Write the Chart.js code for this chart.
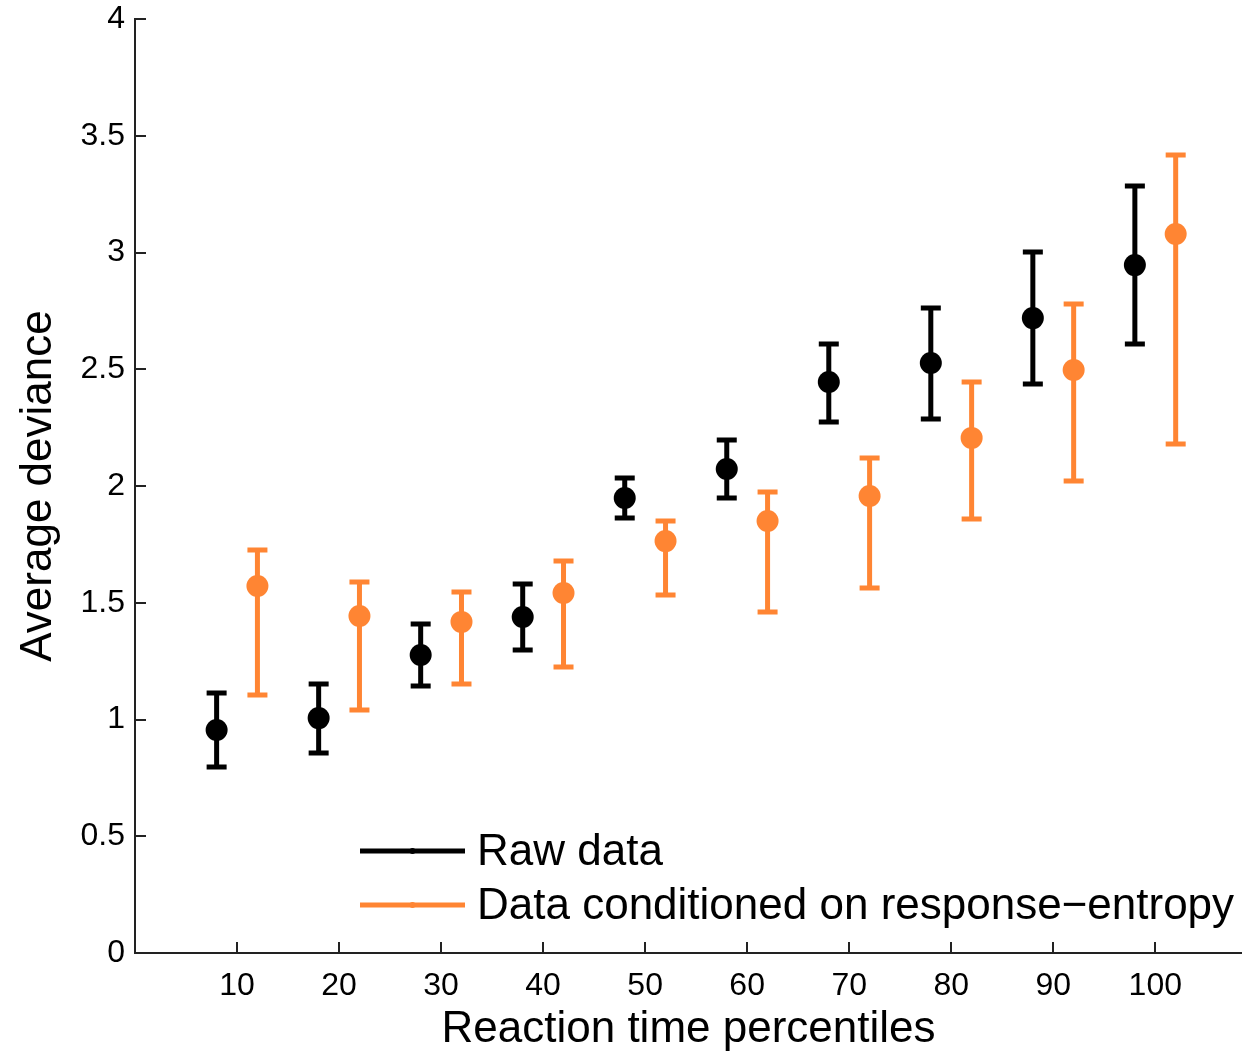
<!DOCTYPE html>
<html>
<head>
<meta charset="utf-8">
<script src="https://cdn.jsdelivr.net/npm/chart.js@4.4.1/dist/chart.umd.min.js"></script>
<style>
html,body{margin:0;padding:0;background:#fff;}
#wrap{width:1242px;height:1056px;position:relative;}
</style>
</head>
<body>
<div id="wrap"><canvas id="c" width="1242" height="1056"></canvas></div>
<script>
// ---- data ----
const xTicks = [10, 20, 30, 40, 50, 60, 70, 80, 90, 100];
const yTicks = [0, 0.5, 1, 1.5, 2, 2.5, 3, 3.5, 4];

const rawX    = [8, 18, 28, 38, 48, 58, 68, 78, 88, 98];
const rawMean = [0.955, 1.006, 1.276, 1.439, 1.949, 2.073, 2.445, 2.527, 2.719, 2.946];
const rawLow  = [0.797, 0.857, 1.143, 1.298, 1.863, 1.949, 2.274, 2.287, 2.437, 2.608];
const rawHigh = [1.113, 1.152, 1.409, 1.580, 2.034, 2.197, 2.608, 2.762, 3.002, 3.285];

const condX    = [12, 22, 32, 42, 52, 62, 72, 82, 92, 102];
const condMean = [1.572, 1.443, 1.418, 1.542, 1.764, 1.850, 1.957, 2.206, 2.497, 3.079];
const condLow  = [1.105, 1.041, 1.152, 1.225, 1.533, 1.460, 1.563, 1.859, 2.021, 2.180];
const condHigh = [1.726, 1.589, 1.546, 1.679, 1.850, 1.974, 2.120, 2.445, 2.779, 3.418];

const seriesNames = ['Raw data', 'Data conditioned on response\u2212entropy'];
const xTitle = 'Reaction time percentiles';
const yTitle = 'Average deviance';

const BLACK = '#000000';
const ORANGE = '#FF8533';
const FONT = '"Liberation Sans", Arial, Helvetica, sans-serif';

function pts(xs, ys, lo, hi) {
  return xs.map((x, i) => ({x: x, y: ys[i], lo: lo[i], hi: hi[i]}));
}

const errorBars = {
  id: 'errorBars',
  beforeDatasetsDraw(chart) {
    const ctx = chart.ctx;
    const xs = chart.scales.x, ys = chart.scales.y;
    chart.data.datasets.forEach((ds, di) => {
      if (!chart.isDatasetVisible(di)) return;
      ctx.save();
      ctx.strokeStyle = ds.borderColor;
      ctx.lineWidth = 5;
      ctx.lineCap = 'butt';
      ds.data.forEach(p => {
        const px = xs.getPixelForValue(p.x);
        const yl = ys.getPixelForValue(p.lo);
        const yh = ys.getPixelForValue(p.hi);
        const cap = 10;
        ctx.beginPath();
        ctx.moveTo(px, yl); ctx.lineTo(px, yh);
        ctx.moveTo(px - cap, yl); ctx.lineTo(px + cap, yl);
        ctx.moveTo(px - cap, yh); ctx.lineTo(px + cap, yh);
        ctx.stroke();
      });
      ctx.restore();
    });
  }
};

const inwardTicks = {
  id: 'inwardTicks',
  afterDraw(chart) {
    const ctx = chart.ctx;
    const xs = chart.scales.x, ys = chart.scales.y;
    const a = chart.chartArea;
    ctx.save();
    ctx.strokeStyle = '#222';
    ctx.lineWidth = 2;
    ctx.beginPath();
    xTicks.forEach(v => {
      const px = Math.round(xs.getPixelForValue(v));
      ctx.moveTo(px, a.bottom); ctx.lineTo(px, a.bottom - 11);
    });
    yTicks.forEach(v => {
      const py = Math.round(ys.getPixelForValue(v));
      ctx.moveTo(a.left, py); ctx.lineTo(a.left + 11, py);
    });
    ctx.stroke();

    // legend
    const lx0 = 360, lx1 = 465, tx = 477;
    const rows = [851, 905];
    chart.data.datasets.forEach((ds, i) => {
      const y = rows[i];
      ctx.strokeStyle = ds.borderColor;
      ctx.lineWidth = 5;
      ctx.beginPath(); ctx.moveTo(lx0, y); ctx.lineTo(lx1, y); ctx.stroke();
      ctx.fillStyle = ds.borderColor;
      ctx.beginPath(); ctx.arc((lx0 + lx1) / 2, y, 3, 0, Math.PI * 2); ctx.fill();
      ctx.fillStyle = '#000';
      ctx.font = '44px ' + FONT;
      ctx.textBaseline = 'middle';
      ctx.textAlign = 'left';
      ctx.fillText(ds.label, tx, y + 2);
    });
    ctx.restore();
  }
};

new Chart(document.getElementById('c'), {
  type: 'scatter',
  data: {
    datasets: [
      {
        label: seriesNames[0],
        data: pts(rawX, rawMean, rawLow, rawHigh),
        borderColor: BLACK, backgroundColor: BLACK,
        pointRadius: 11, pointHoverRadius: 11, pointBorderWidth: 0,
        showLine: false
      },
      {
        label: seriesNames[1],
        data: pts(condX, condMean, condLow, condHigh),
        borderColor: ORANGE, backgroundColor: ORANGE,
        pointRadius: 11, pointHoverRadius: 11, pointBorderWidth: 0,
        showLine: false
      }
    ]
  },
  options: {
    responsive: false,
    animation: false,
    devicePixelRatio: 1,
    layout: {autoPadding: false, padding: {top: 19, right: 0, left: 0, bottom: 0}},
    plugins: {legend: {display: false}, tooltip: {enabled: false}},
    scales: {
      x: {
        type: 'linear', min: 0, max: 108.5,
        afterBuildTicks(s) { s.ticks = xTicks.map(v => ({value: v})); },
        afterFit(s) { s.height = 103; s.paddingLeft = 0; s.paddingRight = 0; },
        grid: {display: false, drawTicks: false},
        border: {display: true, color: '#222', width: 2},
        ticks: {color: '#000', font: {family: FONT, size: 32}, padding: 14, maxRotation: 0,
                callback: v => String(v)},
        title: {display: true, text: xTitle, color: '#000',
                font: {family: FONT, size: 44}, padding: {top: 0, bottom: 0}}
      },
      y: {
        type: 'linear', min: 0, max: 4,
        afterBuildTicks(s) { s.ticks = yTicks.map(v => ({value: v})); },
        afterFit(s) { s.width = 135; s.paddingTop = 0; s.paddingBottom = 0; },
        grid: {display: false, drawTicks: false},
        border: {display: true, color: '#222', width: 2},
        ticks: {color: '#000', font: {family: FONT, size: 32}, padding: 10,
                callback: v => String(v)},
        title: {display: true, text: yTitle, color: '#000',
                font: {family: FONT, size: 44}, padding: {top: 12, bottom: 0}}
      }
    }
  },
  plugins: [errorBars, inwardTicks]
});
</script>
</body>
</html>
